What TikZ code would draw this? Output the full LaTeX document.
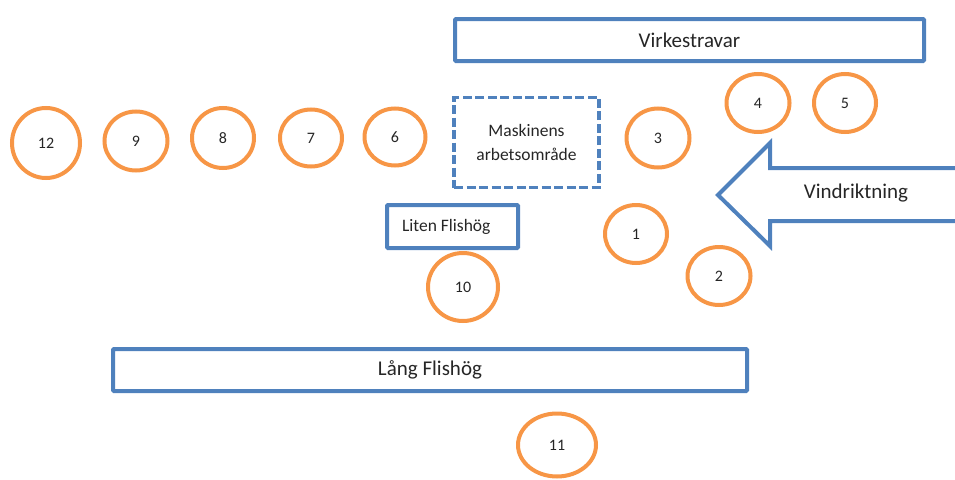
\documentclass[tikz,border=0pt]{standalone}
\usepackage{fontspec}
\setmainfont{Carlito}
\usetikzlibrary{shapes.geometric}
\definecolor{boxblue}{HTML}{4F81BD}
\definecolor{spotorange}{HTML}{F79646}
\definecolor{txt}{HTML}{262626}
\tikzset{
  pile/.style={draw=boxblue, line width=4pt, rounded corners=1pt, text=txt, inner sep=0pt, font=\fontsize{21}{25}\selectfont},
  smallpile/.style={draw=boxblue, line width=4pt, rounded corners=1pt, text=txt, inner sep=0pt, font=\fontsize{17.5}{21}\selectfont},
  workarea/.style={draw=boxblue, line width=3.8pt, dash pattern=on 9pt off 3.5pt, text=txt, inner sep=0pt, align=center, font=\fontsize{17.5}{24}\selectfont},
  spot/.style={ellipse, draw=spotorange, line width=4pt, text=txt, inner sep=0pt, font=\fontsize{16}{19}\selectfont},
  windarrow/.style={draw=boxblue, line width=4pt, line join=miter},
  label/.style={text=txt, inner sep=0pt, font=\fontsize{21}{25}\selectfont}
}
\begin{document}
\begin{tikzpicture}[x=1pt,y=-1pt]
\useasboundingbox (0,0) rectangle (955,479);
\begin{scope}
\clip (0,0) rectangle (955,479);
% rectangles
\node[pile, minimum width=469pt, minimum height=42pt] (virke) at (689.5,40) {Virkestravar};
\node[pile, minimum width=634pt, minimum height=42pt] (lang) at (430,370) {Lång Flishög};
\node[smallpile, minimum width=131pt, minimum height=43pt] (liten) at (452.5,226.5) {\makebox[121pt][l]{\hspace*{10pt}Liten Flishög}};
\node[workarea, minimum width=145pt, minimum height=90pt] (maskin) at (526.5,142.5) {Maskinens\\arbetsområde};
% wind arrow
\draw[windarrow] (962,168) -- (770,168) -- (770,143) -- (718,195) -- (770,246) -- (770,221) -- (962,221);
\node[label] (vind) at (856,193) {Vindriktning};
% spots
\node[spot, minimum width=68pt, minimum height=70pt] (s12) at (46,143) {12};
\node[spot, minimum width=63pt, minimum height=59pt] (s9) at (136,141) {9};
\node[spot, minimum width=62pt, minimum height=60pt] (s8) at (223,138) {8};
\node[spot, minimum width=62pt, minimum height=57pt] (s7) at (311,138) {7};
\node[spot, minimum width=61pt, minimum height=57pt] (s6) at (395,137) {6};
\node[spot, minimum width=63pt, minimum height=59pt] (s3) at (658,138) {3};
\node[spot, minimum width=63pt, minimum height=58pt] (s4) at (758,103) {4};
\node[spot, minimum width=62pt, minimum height=58pt] (s5) at (845,103) {5};
\node[spot, minimum width=62pt, minimum height=58pt] (s1) at (636,234) {1};
\node[spot, minimum width=63pt, minimum height=58pt] (s2) at (719,276) {2};
\node[spot, minimum width=70pt, minimum height=68pt] (s10) at (463,287) {10};
\node[spot, minimum width=78pt, minimum height=63pt] (s11) at (557,445) {11};
\end{scope}
\end{tikzpicture}
\end{document}
